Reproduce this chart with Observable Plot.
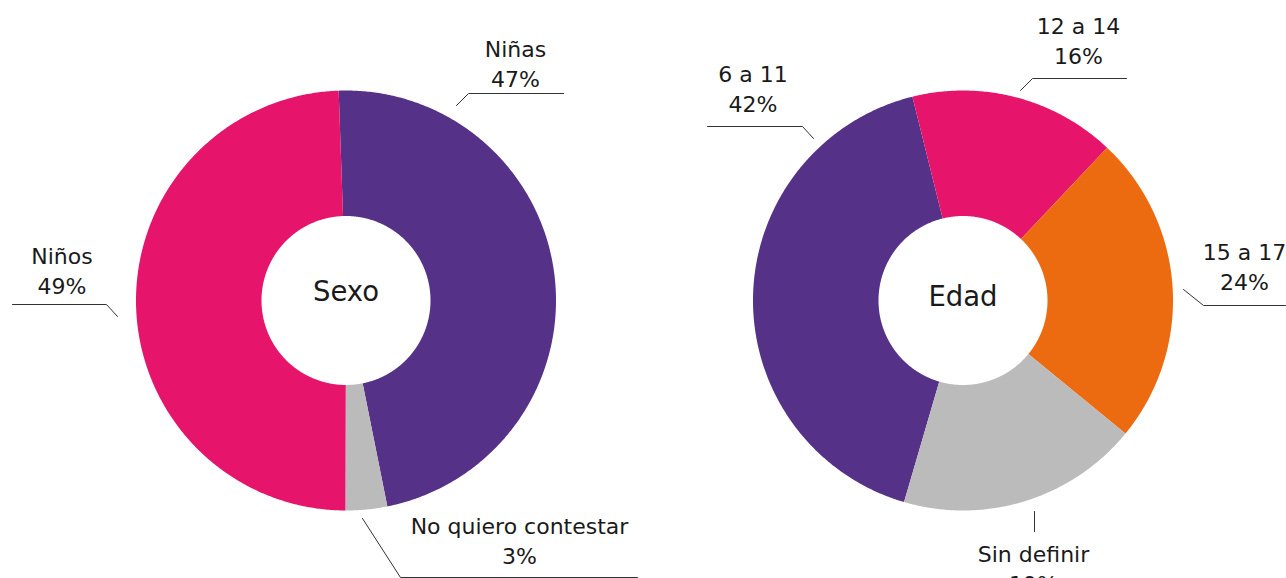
<!DOCTYPE html>
<html><head><meta charset="utf-8">
<script src="https://cdn.jsdelivr.net/npm/d3@7"></script>
<script src="https://cdn.jsdelivr.net/npm/@observablehq/plot@0.6"></script>
<style>body{margin:0;background:#fff;} svg{display:block}</style>
</head><body><div id="chart"></div>
<script>
// ---- data ----
const chartTitles = ["Sexo", "Edad"];
const sexoCategories = ["Niñas", "No quiero contestar", "Niños"];
const sexoValues = [47.4, 3.2, 49.4];
const sexoColors = ["#553187", "#BBBBBB", "#E6146B"];
const edadCategories = ["6 a 11", "12 a 14", "15 a 17", "Sin definir"];
const edadValues = [41.6, 15.9, 23.9, 18.6];
const edadColors = ["#553187", "#E6146B", "#EC6B11", "#BBBBBB"];

// ---- layout ----
const W = 1286, H = 578, R = 210, HOLE = 84.5 / 210;
const FONT = "DejaVu Sans";
const centers = [[345.5, 300], [962.5, 300]];
const startAngles = [-2, -163.7];
const titleBaselines = [0, 5];
const sexoLabelLayout = [
  {text: [169.5, -214], leader: [[110.5, -195], [122.5, -207], [217.5, -207]]},
  {text: [173.5, 263], leader: [[16.5, 218], [54.5, 277], [291.5, 277]]},
  {text: [-284, -7], leader: [[-228.5, 16], [-239.5, 4], [-333.5, 4]]}
];
const edadLabelLayout = [
  {text: [-210, -189], leader: [[-149.5, -162], [-160.5, -174], [-255.5, -174]]},
  {text: [115.5, -237], leader: [[57.5, -210], [69.5, -222], [163.5, -222]]},
  {text: [281.5, -11], leader: [[220.5, -11], [240.5, 5], [322.5, 5]]},
  {text: [70.5, 291], leader: [[71.5, 211], [71.5, 231]]}
];

const charts = [
  {cats: sexoCategories, vals: sexoValues, cols: sexoColors, layout: sexoLabelLayout},
  {cats: edadCategories, vals: edadValues, cols: edadColors, layout: edadLabelLayout}
];

const marks = [];
const labels = [];
const leaders = [];
const titles = [];
charts.forEach((c, ci) => {
  const cx = centers[ci][0] / R, cy = centers[ci][1] / R;
  const total = d3.sum(c.vals);
  let a = startAngles[ci];
  c.vals.forEach((v, i) => {
    const a0 = a, a1 = a + v / total * 360;
    a = a1;
    const pts = [];
    const n = Math.max(2, Math.ceil((a1 - a0) / 0.5));
    for (let k = 0; k <= n; k++) {
      const t = (a0 + (a1 - a0) * k / n) * Math.PI / 180;
      pts.push({x: cx + Math.sin(t), y: cy - Math.cos(t)});
    }
    for (let k = n; k >= 0; k--) {
      const t = (a0 + (a1 - a0) * k / n) * Math.PI / 180;
      pts.push({x: cx + HOLE * Math.sin(t), y: cy - HOLE * Math.cos(t)});
    }
    marks.push(Plot.line(pts, {x: "x", y: "y", fill: c.cols[i], stroke: "none", curve: "linear-closed"}));
    const L = c.layout[i];
    labels.push({x: cx + L.text[0] / R, y: cy + L.text[1] / R, t: c.cats[i] + "\n" + Math.round(v) + "%"});
    L.leader.forEach((p, k) => leaders.push({x: cx + p[0] / R, y: cy + p[1] / R, g: ci + "-" + i, k}));
  });
  titles.push({x: cx, y: cy + titleBaselines[ci] / R, t: chartTitles[ci]});
});

const plot = Plot.plot({
  width: W, height: H,
  margin: 0,
  x: {domain: [0, W / R], axis: null},
  y: {domain: [H / R, 0], axis: null},
  style: {fontFamily: FONT, background: "#fff"},
  marks: [
    ...marks,
    Plot.line(leaders, {x: "x", y: "y", z: "g", stroke: "#333", strokeWidth: 1}),
    Plot.text(labels, {x: "x", y: "y", text: "t", fontSize: 22, lineAnchor: "bottom", lineHeight: 1.34, textAnchor: "middle", fill: "#1a1a1a"}),
    Plot.text(titles, {x: "x", y: "y", text: "t", fontSize: 27.5, lineAnchor: "bottom", textAnchor: "middle", fill: "#1a1a1a"})
  ]
});
document.getElementById("chart").appendChild(plot);
</script>
</body></html>
